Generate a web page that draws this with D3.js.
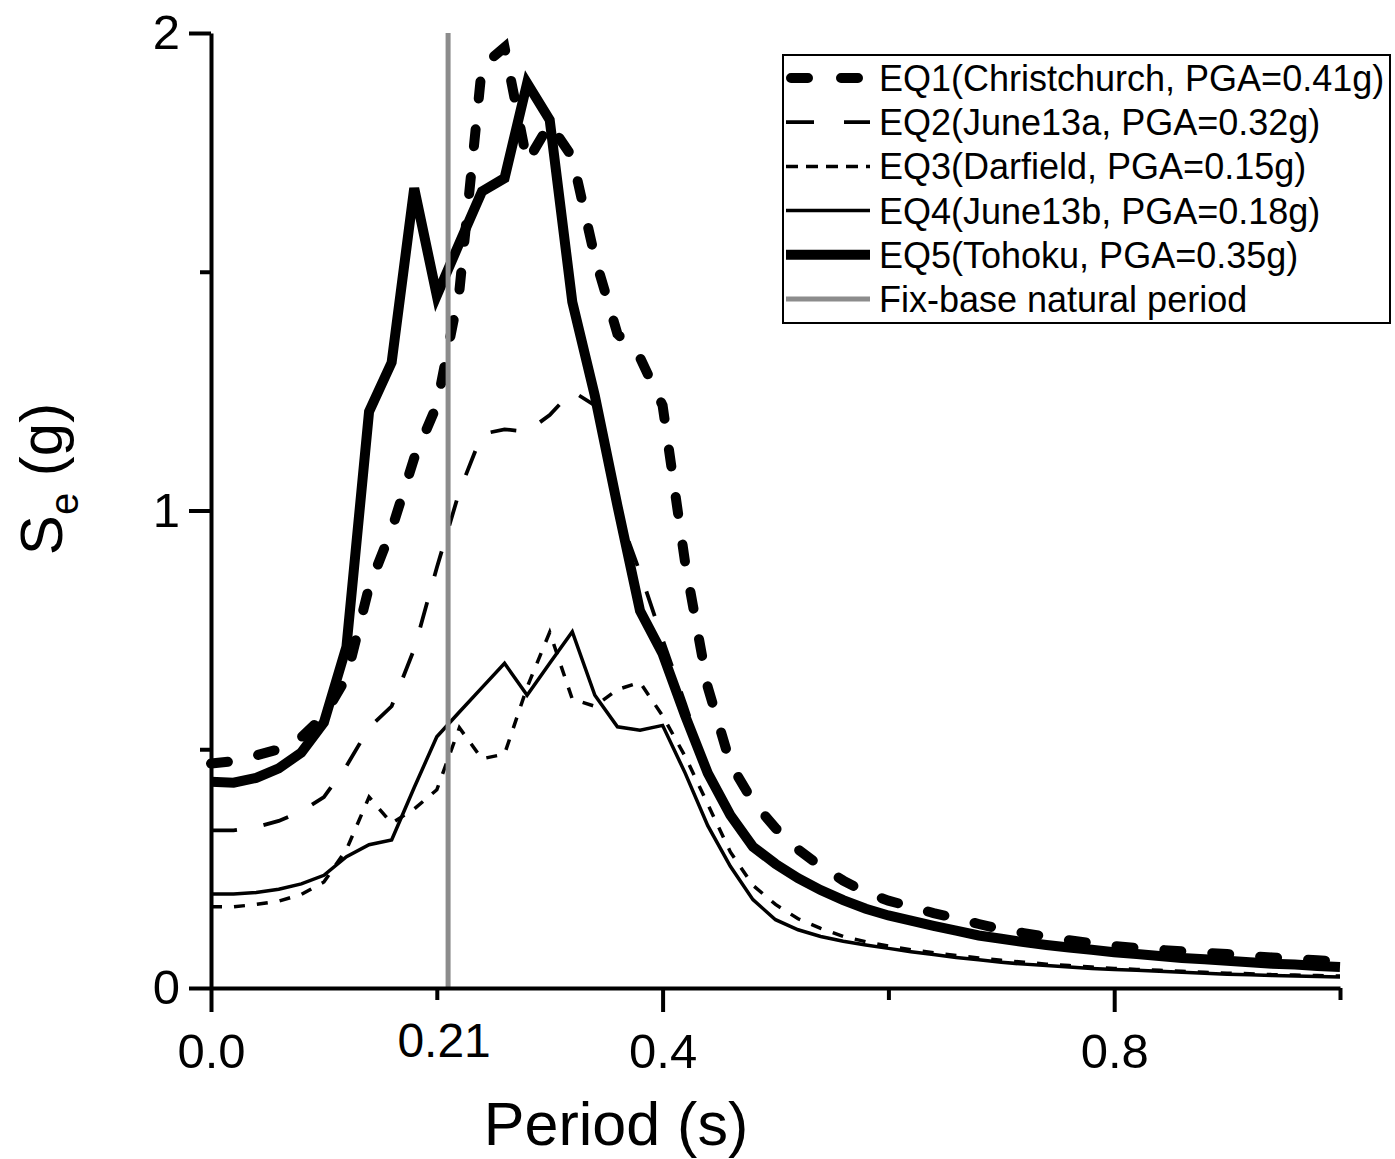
<!DOCTYPE html>
<html>
<head>
<meta charset="utf-8">
<script src="https://cdn.jsdelivr.net/npm/d3@7"></script>
<style>
  html, body { margin: 0; padding: 0; background: #fff; }
  svg { display: block; font-family: "Liberation Sans", Arial, sans-serif; }
</style>
</head>
<body>
<svg id="chart" width="1395" height="1159"></svg>
<script>
// ---------------- data ----------------
const periods = [0.00,0.02,0.04,0.06,0.08,0.10,0.12,0.14,0.16,0.18,
                 0.20,0.22,0.24,0.26,0.28,0.30,0.32,0.34,0.36,0.38,
                 0.40,0.42,0.44,0.46,0.48,0.50,0.52,0.54,0.56,0.58,
                 0.60,0.62,0.64,0.66,0.68,0.70,0.72,0.74,0.76,0.78,
                 0.80,0.82,0.84,0.86,0.88,0.90,0.92,0.94,0.96,0.98,1.00];

const eq1 = [0.470,0.475,0.487,0.500,0.525,0.570,0.650,0.840,0.960,1.110,
             1.220,1.460,1.930,1.970,1.730,1.810,1.740,1.530,1.370,1.320,
             1.220,0.890,0.630,0.470,0.390,0.335,0.290,0.255,0.225,0.200,
             0.183,0.170,0.157,0.146,0.134,0.123,0.115,0.107,0.100,0.094,
             0.088,0.084,0.080,0.077,0.074,0.071,0.067,0.064,0.061,0.058,0.056];

const eq2 = [0.330,0.330,0.337,0.350,0.370,0.400,0.465,0.545,0.590,0.710,
             0.880,1.040,1.160,1.170,1.165,1.200,1.250,1.220,1.000,0.870,
             0.730,0.595,0.455,0.360,0.293,0.257,0.227,0.202,0.181,0.163,
             0.149,0.138,0.127,0.117,0.107,0.100,0.093,0.087,0.082,0.077,
             0.072,0.068,0.064,0.060,0.057,0.054,0.051,0.048,0.046,0.043,0.041];

const eq3 = [0.170,0.170,0.175,0.182,0.196,0.222,0.290,0.400,0.345,0.375,
             0.415,0.545,0.480,0.490,0.630,0.745,0.605,0.590,0.625,0.640,
             0.570,0.485,0.385,0.285,0.215,0.175,0.145,0.125,0.108,0.097,
             0.088,0.080,0.074,0.068,0.063,0.058,0.054,0.050,0.047,0.044,
             0.041,0.039,0.037,0.035,0.033,0.031,0.030,0.028,0.027,0.026,0.025];

const eq4 = [0.197,0.197,0.200,0.207,0.218,0.236,0.275,0.300,0.310,0.420,
             0.526,0.578,0.629,0.680,0.613,0.680,0.746,0.613,0.547,0.540,
             0.550,0.450,0.340,0.255,0.185,0.143,0.122,0.108,0.098,0.090,
             0.083,0.076,0.070,0.064,0.059,0.054,0.050,0.047,0.044,0.041,
             0.039,0.037,0.035,0.033,0.031,0.029,0.028,0.026,0.025,0.024,0.023];

const eq5 = [0.432,0.430,0.440,0.460,0.493,0.556,0.715,1.207,1.310,1.675,
             1.450,1.560,1.668,1.696,1.895,1.818,1.437,1.240,1.010,0.790,
             0.700,0.570,0.450,0.362,0.296,0.260,0.230,0.205,0.184,0.166,
             0.152,0.141,0.130,0.120,0.110,0.103,0.096,0.090,0.085,0.080,
             0.075,0.071,0.067,0.063,0.060,0.057,0.054,0.051,0.049,0.046,0.044];

const seriesNames = ["EQ1(Christchurch, PGA=0.41g)",
                     "EQ2(June13a, PGA=0.32g)",
                     "EQ3(Darfield, PGA=0.15g)",
                     "EQ4(June13b, PGA=0.18g)",
                     "EQ5(Tohoku, PGA=0.35g)"];
const naturalPeriodName = "Fix-base natural period";
const naturalPeriod = 0.21;

const xMajorTicks = [0.0, 0.4, 0.8];
const xMinorTicks = [0.2, 0.6, 1.0];
const yMajorTicks = [0, 1, 2];
const yMinorTicks = [0.5, 1.5];
const xTitle = "Period (s)";

// ---------------- styles ----------------
const styles = [
  { width: 10,  dash: "17,31", cap: "round" },
  { width: 3.8, dash: "26,27", cap: "butt" },
  { width: 3.5, dash: "11,12", cap: "butt" },
  { width: 3.5, dash: null,    cap: "butt" },
  { width: 10,  dash: null,    cap: "butt" }
];
const allSeries = [eq1, eq2, eq3, eq4, eq5];

// ---------------- chart ----------------
const svg = d3.select("#chart");
const x = d3.scaleLinear().domain([0, 1]).range([211, 1340]);
const y = d3.scaleLinear().domain([0, 2]).range([988, 33]);

const line = d3.line()
  .x(d => x(d[0]))
  .y(d => y(d[1]));

const linesG = svg.append("g");
allSeries.forEach((vals, i) => {
  const pts = periods.map((p, k) => [p, vals[k]]);
  const st = styles[i];
  linesG.append("path")
    .datum(pts)
    .attr("d", line)
    .attr("fill", "none")
    .attr("stroke", "#000")
    .attr("stroke-width", st.width)
    .attr("stroke-linejoin", "miter")
    .attr("stroke-linecap", st.cap)
    .attr("stroke-dasharray", st.dash);
});

// natural period line
svg.append("line")
  .attr("x1", x(naturalPeriod)).attr("x2", x(naturalPeriod))
  .attr("y1", y(2)).attr("y2", y(0))
  .attr("stroke", "#8c8c8c")
  .attr("stroke-width", 5);

// axes
const axisColor = "#000";
function styleAxis(g) {
  g.selectAll("path.domain").attr("stroke", axisColor).attr("stroke-width", 4);
  g.selectAll(".tick line").attr("stroke", axisColor).attr("stroke-width", 4);
}

const xAxisMinor = svg.append("g")
  .attr("transform", `translate(0,${y(0)})`)
  .call(d3.axisBottom(x).tickValues(xMinorTicks).tickSize(12).tickSizeOuter(0).tickFormat(""));
styleAxis(xAxisMinor);

const xAxisMajor = svg.append("g")
  .attr("transform", `translate(0,${y(0)})`)
  .call(d3.axisBottom(x).tickValues(xMajorTicks).tickSize(24).tickSizeOuter(0)
        .tickFormat(d3.format(".1f")));
styleAxis(xAxisMajor);
xAxisMajor.selectAll("path.domain").remove();
xAxisMajor.selectAll(".tick text")
  .attr("y", 80).attr("dy", 0)
  .attr("fill", "#000")
  .style("font-size", "49px")
  .style("font-family", '"Liberation Sans", Arial, sans-serif');

svg.append("text")
  .attr("x", x(naturalPeriod) - 4)
  .attr("y", 1057)
  .attr("text-anchor", "middle")
  .attr("fill", "#000")
  .style("font-size", "48px")
  .text(d3.format(".2f")(naturalPeriod));

const yAxisMinor = svg.append("g")
  .attr("transform", `translate(${x(0)},0)`)
  .call(d3.axisLeft(y).tickValues(yMinorTicks).tickSize(11).tickSizeOuter(0).tickFormat(""));
styleAxis(yAxisMinor);

const yAxisMajor = svg.append("g")
  .attr("transform", `translate(${x(0)},0)`)
  .call(d3.axisLeft(y).tickValues(yMajorTicks).tickSize(22).tickSizeOuter(0).tickPadding(9)
        .tickFormat(d3.format("d")));
styleAxis(yAxisMajor);
yAxisMajor.selectAll("path.domain").remove();
yAxisMajor.selectAll(".tick text")
  .attr("fill", "#000")
  .style("font-size", "49px")
  .style("font-family", '"Liberation Sans", Arial, sans-serif');

// axis titles
svg.append("text")
  .attr("x", 616)
  .attr("y", 1145)
  .attr("text-anchor", "middle")
  .attr("fill", "#000")
  .style("font-size", "61px")
  .text(xTitle);

const yt = svg.append("text")
  .attr("transform", "translate(62,479) rotate(-90)")
  .attr("text-anchor", "middle")
  .attr("fill", "#000")
  .style("font-size", "60px");
yt.append("tspan").text("S");
yt.append("tspan").attr("dy", 16).style("font-size", "40px").text("e");
yt.append("tspan").attr("dy", -16).text(" (g)");

// legend
const legend = svg.append("g");
legend.append("rect")
  .attr("x", 783).attr("y", 55)
  .attr("width", 607).attr("height", 268)
  .attr("fill", "#fff")
  .attr("stroke", "#000")
  .attr("stroke-width", 2);

const rowY = d3.scaleLinear().domain([0, 5]).range([78, 299]);
const legendItems = seriesNames.map((n, i) => ({ name: n, style: styles[i], color: "#000" }))
  .concat([{ name: naturalPeriodName, style: { width: 5, dash: null, cap: "butt" }, color: "#8c8c8c" }]);

const legendDash = ["17,33", "28,30", "12,8", null, null, null];
legendItems.forEach((it, i) => {
  const cy = rowY(i);
  legend.append("line")
    .attr("x1", it.style.cap === "round" ? 791 : 786)
    .attr("x2", it.style.cap === "round" ? 866 : 870)
    .attr("y1", cy).attr("y2", cy)
    .attr("stroke", it.color)
    .attr("stroke-width", it.style.width)
    .attr("stroke-linecap", it.style.cap)
    .attr("stroke-dasharray", legendDash[i]);
  legend.append("text")
    .attr("x", 879)
    .attr("y", cy + 13)
    .attr("fill", "#000")
    .style("font-size", "36px")
    .text(it.name);
});
</script>
</body>
</html>
